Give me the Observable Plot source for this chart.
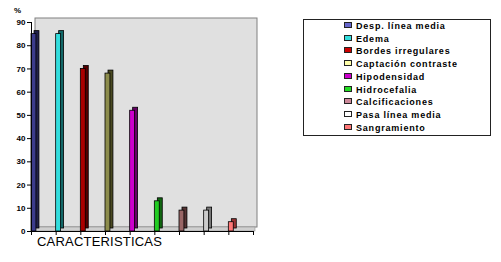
<!DOCTYPE html>
<html>
<head>
<meta charset="utf-8">
<script src="https://cdn.jsdelivr.net/npm/d3@7"></script>
<script src="https://cdn.jsdelivr.net/npm/@observablehq/plot@0.6"></script>
<style>
  body { margin: 0; background: #fff; }
  #wrap { position: relative; width: 501px; height: 262px; font-family: Arial, "Liberation Sans", sans-serif; }
  #wrap svg { position: absolute; left: 0; top: 0; }
  .pct { position: absolute; left: 14px; top: 6px; font-size: 8px; font-weight: bold; }
  .xlab { position: absolute; left: 37px; top: 234px; font-size: 13px; letter-spacing: 0.2px; }
  #legend { position: absolute; left: 303px; top: 19px; width: 188px; height: 117px; border: 1.5px solid #222; box-sizing: border-box; background: #fff; }
  .item { position: absolute; left: 40px; height: 12px; font-size: 9px; font-weight: bold; letter-spacing: 0.8px; white-space: nowrap; line-height: 12px; }
  .sw { display: inline-block; width: 6px; height: 4px; border: 1px solid #222; margin-right: 4px; vertical-align: 1px; }
</style>
</head>
<body>
<div id="wrap"></div>
<script>
const categories = ["Desp. línea media", "Edema", "Bordes irregulares", "Captación contraste", "Hipodensidad", "Hidrocefalia", "Calcificaciones", "Pasa línea media", "Sangramiento"];
const values = [85, 85, 70, 68, 52, 13, 9, 9, 4];
const colors = ["#3c3c8c", "#33dddd", "#aa0000", "#8c8c4c", "#cc00cc", "#22cc22", "#996666", "#cccccc", "#ff7777"];
const sideColors = ["#22224a", "#116666", "#550000", "#4a4a22", "#660066", "#116611", "#553333", "#777777", "#993333"];
const legendColors = ["#6666cc", "#33dddd", "#cc0000", "#ffffaa", "#cc00cc", "#22dd22", "#cc8899", "#ffffff", "#ff7777"];
const yTicks = [0, 10, 20, 30, 40, 50, 60, 70, 80, 90];
const xTicks = [0, 1, 2, 3, 4, 5, 6, 7, 8, 9];
const xLabel = "CARACTERISTICAS";
const yLabel = "%";

const data = categories.map((c, i) => ({cat: c, i, v: values[i], color: colors[i], side: sideColors[i]}));
const barW = 0.2;

const chart = Plot.plot({
  width: 501,
  height: 262,
  marginLeft: 31,
  marginRight: 248,
  marginTop: 22,
  marginBottom: 31,
  x: {type: "linear", domain: [0, 9]},
  y: {domain: [0, 90]},
  style: {fontFamily: "Arial, 'Liberation Sans', sans-serif", background: "transparent"},
  marks: [
    // back wall
    Plot.rect([{}], {x1: 0, x2: 9, y1: 0, y2: 90, dx: 4, dy: -4, fill: "#e0e0e0", stroke: "#808080", strokeWidth: 1}),
    // floor
    Plot.rect([{}], {x1: 0, x2: 9, y1: 0, y2: 0, insetTop: -4, dx: 2, fill: "#cfcfcf", stroke: "#909090", strokeWidth: 0.6}),
    // bar extrusion
    Plot.rectY(data, {x1: d => d.i, x2: d => d.i + barW, y1: 0, y2: "v", dx: 3, dy: -3, fill: "side", stroke: "#000", strokeWidth: 0.8}),
    // bar front
    Plot.rectY(data, {x1: d => d.i, x2: d => d.i + barW, y1: 0, y2: "v", fill: "color", stroke: "#000", strokeWidth: 0.8}),
    Plot.ruleX([0], {stroke: "#000"}),
    Plot.ruleY([0], {stroke: "#000"}),
    Plot.axisY({ticks: yTicks, tickSize: 4, tickPadding: 2, label: null, fontSize: 8, fontWeight: "bold"}),
    Plot.axisX({ticks: xTicks, tickSize: 4, tickFormat: () => "", label: null})
  ]
});

const wrap = document.getElementById("wrap");
wrap.appendChild(chart);
const pct = document.createElement("div"); pct.className = "pct"; pct.textContent = yLabel; wrap.appendChild(pct);
const xl = document.createElement("div"); xl.className = "xlab"; xl.textContent = xLabel; wrap.appendChild(xl);
const legend = document.createElement("div"); legend.id = "legend";
categories.forEach((c, i) => {
  const it = document.createElement("div");
  it.className = "item";
  it.style.top = (0 + i * 12.7) + "px";
  const sw = document.createElement("span"); sw.className = "sw"; sw.style.background = legendColors[i];
  it.appendChild(sw);
  it.appendChild(document.createTextNode(c));
  legend.appendChild(it);
});
wrap.appendChild(legend);
</script>
</body>
</html>
